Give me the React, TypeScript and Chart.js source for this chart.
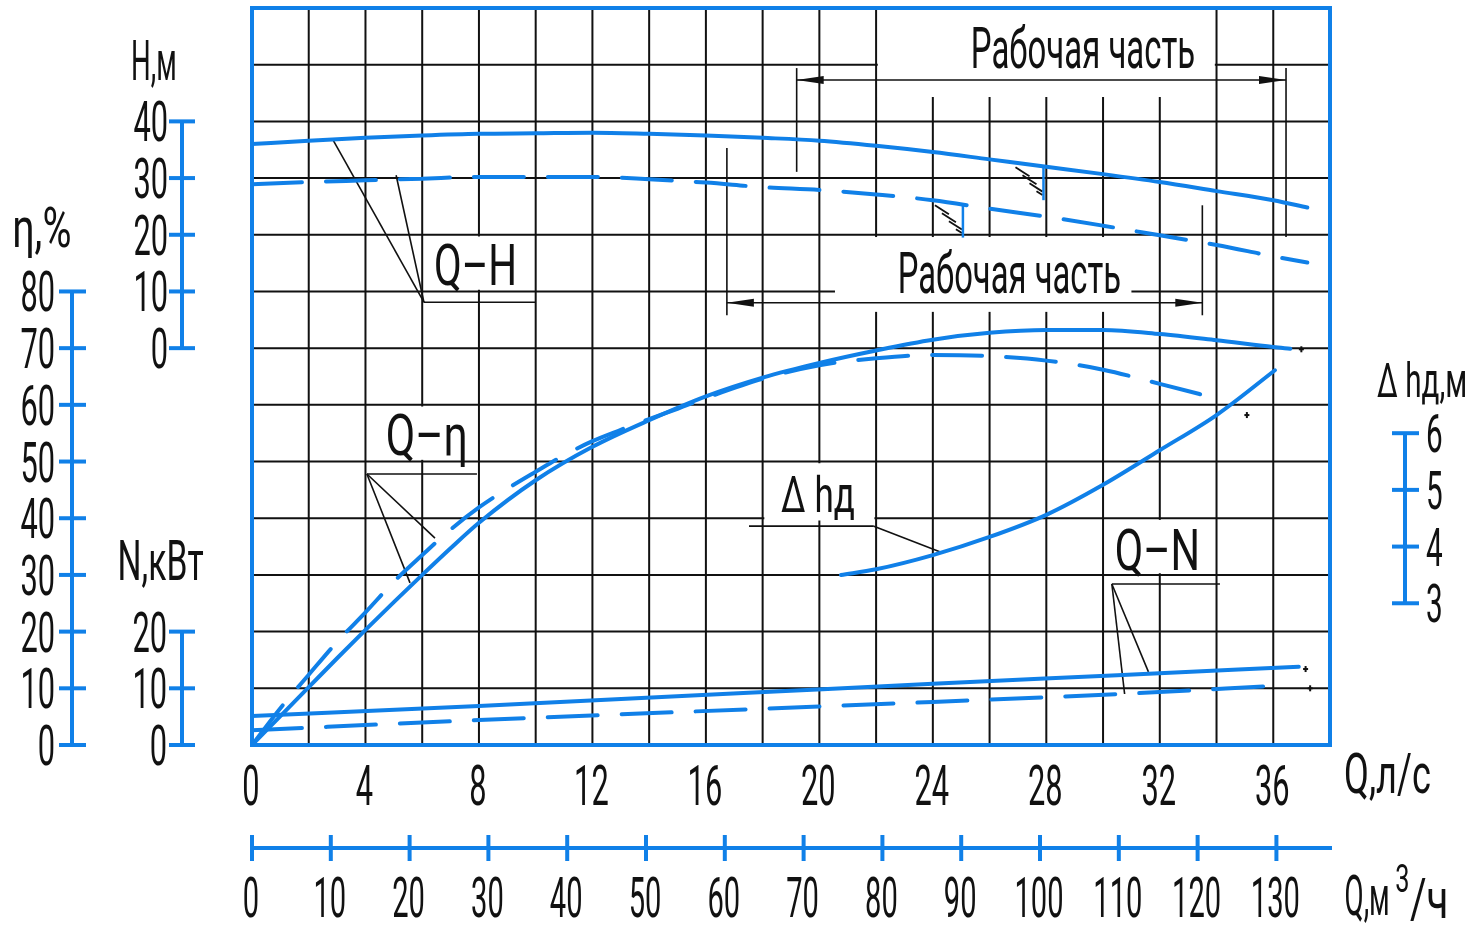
import React, { useEffect, useRef } from 'react';
import { Chart, registerables } from 'chart.js';

Chart.register(...registerables);

const BLUE = '#1080e8';
const INK = '#111111';
const FONT = 'Roboto, "DejaVu Sans", sans-serif';

// ---- data (Q in l/s) ----
const qH = [0, 2, 4, 6, 8, 10, 12, 14, 16, 18, 20, 22, 24, 26, 28, 30, 32, 34, 36, 37.2];
const hSolid = [36.0, 36.6, 37.1, 37.5, 37.8, 37.9, 38.0, 37.8, 37.5, 37.1, 36.6, 35.7, 34.6, 33.3, 32.0, 30.7, 29.3, 27.7, 26.1, 24.8];
const hDashed = [28.9, 29.3, 29.6, 29.9, 30.2, 30.2, 30.2, 29.8, 29.2, 28.4, 27.9, 27.1, 26.1, 24.6, 23.2, 21.6, 19.9, 18.2, 16.2, 15.1];

const qEtaSolid = [0, 1, 2, 3, 4, 5, 6, 7, 8, 10, 12, 14, 16, 18, 20, 22, 24, 26, 28, 30, 32, 34, 36, 36.6];
const etaSolid = [0, 5.1, 10.2, 15.3, 20.3, 25.2, 30.0, 34.7, 39.2, 46.7, 52.6, 57.3, 61.5, 64.8, 67.4, 69.6, 71.5, 72.7, 73.2, 73.2, 72.5, 71.4, 70.2, 69.9];
const qEtaDashed = [0, 1, 2, 3, 4, 5, 6, 7, 8, 9, 10, 11, 12, 13, 14, 15, 16, 18, 20, 22, 24, 26, 28, 30, 32, 34.1];
const etaDashed = [0, 6.5, 12.4, 18.2, 23.4, 28.8, 33.5, 38.0, 41.9, 45.2, 48.2, 51.1, 53.6, 55.6, 57.5, 59.3, 61.2, 64.6, 67.0, 68.2, 68.8, 68.6, 67.8, 66.2, 63.7, 61.0];

const qDh = [20.76, 22, 24, 26, 28, 30, 32, 34, 36.06];
const dh = [3.5, 3.6, 3.85, 4.17, 4.56, 5.09, 5.7, 6.32, 7.11];

const qNSolid = [0, 8, 17.5, 24, 30.5, 36.9];
const nSolid = [5.1, 6.9, 9.2, 10.8, 12.3, 13.8];
const qNDashed = [0, 8, 17.5, 24, 30.6, 36.3];
const nDashed = [2.6, 4.4, 6.3, 7.6, 9.0, 10.5];

// ---- ticks ----
const qTicksLs = [0, 4, 8, 12, 16, 20, 24, 28, 32, 36];
const qTicksM3 = [0, 10, 20, 30, 40, 50, 60, 70, 80, 90, 100, 110, 120, 130];
const hTicks = [0, 10, 20, 30, 40];
const etaTicks = [0, 10, 20, 30, 40, 50, 60, 70, 80];
const nTicks = [0, 10, 20];
const dhTicks = [3, 4, 5, 6];

// working ranges (Q, l/s)
const workSolid = [19.2, 36.45];
const workDashed = [16.74, 33.5];

const pts = (qs: number[], vs: number[]) => qs.map((q, i) => ({ x: q, y: vs[i] }));

function drawText(ctx: CanvasRenderingContext2D, s: string, x: number, y: number, size: number, align: CanvasTextAlign, sx = 0.55) {
  ctx.save();
  ctx.font = `${size}px ${FONT}`;
  ctx.textAlign = align;
  ctx.textBaseline = 'alphabetic';
  ctx.fillStyle = INK;
  ctx.translate(x, y);
  ctx.scale(sx, 1);
  ctx.fillText(s, 0, 0);
  ctx.restore();
}

function fitText(ctx: CanvasRenderingContext2D, s: string, left: number, baseline: number, width: number, size: number) {
  ctx.save();
  ctx.font = `${size}px ${FONT}`;
  ctx.textAlign = 'left';
  ctx.textBaseline = 'alphabetic';
  ctx.fillStyle = INK;
  const m = ctx.measureText(s);
  const w = m.actualBoundingBoxLeft + m.actualBoundingBoxRight;
  const sx = width / w;
  ctx.translate(left, baseline);
  ctx.scale(sx, 1);
  ctx.fillText(s, m.actualBoundingBoxLeft, 0);
  ctx.restore();
}

function seg(ctx: CanvasRenderingContext2D, x1: number, y1: number, x2: number, y2: number) {
  ctx.beginPath();
  ctx.moveTo(x1, y1);
  ctx.lineTo(x2, y2);
  ctx.stroke();
}

function arrow(ctx: CanvasRenderingContext2D, tipX: number, y: number, dir: number) {
  ctx.beginPath();
  ctx.moveTo(tipX, y);
  ctx.lineTo(tipX - dir * 27, y - 4);
  ctx.lineTo(tipX - dir * 27, y + 4);
  ctx.closePath();
  ctx.fill();
}

const decor = {
  id: 'decor',
  beforeDatasetsDraw(chart: any) {
    const { ctx, chartArea: a, scales } = chart;
    const X = (q: number) => scales.x.getPixelForValue(q);
    const G = (u: number) => scales.yG.getPixelForValue(u);
    ctx.save();
    // grid
    ctx.strokeStyle = INK;
    ctx.lineWidth = 2;
    ctx.beginPath();
    for (let q = 2; q < 38; q += 2) {
      ctx.moveTo(X(q), a.top);
      ctx.lineTo(X(q), a.bottom);
    }
    for (let u = 1; u < 13; u++) {
      ctx.moveTo(a.left, G(u));
      ctx.lineTo(a.right, G(u));
    }
    ctx.stroke();

    // white label boxes
    ctx.fillStyle = '#ffffff';
    const box = (q0: number, q1: number, uTop: number, uBot: number) => {
      ctx.fillRect(X(q0), G(uTop), X(q1) - X(q0), G(uBot) - G(uTop));
    };
    box(22.06, 33.94, 12.97, 11.43);
    box(20.55, 31.0, 8.96, 7.64);
    box(6.06, 9.94, 8.97, 8.03);
    box(4.06, 7.94, 5.97, 5.03);
    box(18.06, 21.94, 4.97, 3.96);
    box(30.06, 33.94, 3.97, 3.03);

    // dimension lines (working range)
    ctx.strokeStyle = INK;
    ctx.fillStyle = INK;
    ctx.lineWidth = 1.6;
    seg(ctx, X(workSolid[0]), G(11.94), X(workSolid[0]), G(10.11));
    seg(ctx, X(workSolid[1]), G(11.94), X(workSolid[1]), G(8.96));
    seg(ctx, X(workSolid[0]), G(11.73), X(workSolid[1]), G(11.73));
    arrow(ctx, X(workSolid[0]), G(11.73), -1);
    arrow(ctx, X(workSolid[1]), G(11.73), 1);

    seg(ctx, X(workDashed[0]), G(10.53), X(workDashed[0]), G(7.58));
    seg(ctx, X(workDashed[1]), G(9.52), X(workDashed[1]), G(7.58));
    seg(ctx, X(workDashed[0]), G(7.8), X(workDashed[1]), G(7.8));
    arrow(ctx, X(workDashed[0]), G(7.8), -1);
    arrow(ctx, X(workDashed[1]), G(7.8), 1);

    // leaders + underlines
    ctx.lineWidth = 1.6;
    seg(ctx, X(6.06), G(7.81), X(10.01), G(7.81));
    seg(ctx, X(6.06), G(7.81), X(2.86), G(10.67));
    seg(ctx, X(6.06), G(7.81), X(5.08), G(10.05));

    seg(ctx, X(4.05), G(4.78), X(7.93), G(4.78));
    seg(ctx, X(4.05), G(4.78), X(6.45), G(3.65));
    seg(ctx, X(4.05), G(4.78), X(5.57), G(2.86));

    seg(ctx, X(17.52), G(3.86), X(21.92), G(3.86));
    seg(ctx, X(21.92), G(3.86), X(24.29), G(3.4));

    seg(ctx, X(30.31), G(2.84), X(34.12), G(2.84));
    seg(ctx, X(30.31), G(2.84), X(30.76), G(0.9));
    seg(ctx, X(30.31), G(2.84), X(31.6), G(1.29));

    // hatch marks under the Q-H curves
    const hatch = (vx: number, top: number) => {
      ctx.lineWidth = 1.8;
      for (let i = 0; i < 4; i++) {
        const x0 = vx - 28 + 7 * i;
        const y0 = top + 1 + 8 * i;
        const x1 = Math.min(vx - 1, x0 + 14);
        const y1 = y0 + (x1 - x0) * 0.65;
        seg(ctx, x0, y0, x1, y1);
      }
    };
    hatch(X(27.9), scales.yH.getPixelForValue(32.1));
    hatch(X(25.06), scales.yH.getPixelForValue(25.4));
    ctx.restore();
  },
  afterDatasetsDraw(chart: any) {
    const { ctx, chartArea: a, scales } = chart;
    const X = (q: number) => scales.x.getPixelForValue(q);
    const G = (u: number) => scales.yG.getPixelForValue(u);
    const YH = (h: number) => scales.yH.getPixelForValue(h);
    ctx.save();
    // blue markers at hatch
    ctx.strokeStyle = BLUE;
    ctx.lineWidth = 2.5;
    seg(ctx, X(27.9), YH(32.1), X(27.9), YH(26.1));
    seg(ctx, X(25.06), YH(25.4), X(25.06), YH(19.5));

    // border
    ctx.lineWidth = 4;
    ctx.strokeRect(a.left, a.top, a.right - a.left, a.bottom - a.top);

    // small end marks
    ctx.fillStyle = INK;
    const star = (q: number, u: number) => {
      const x = X(q), y = G(u);
      ctx.fillRect(x - 2.5, y - 1, 5, 2);
      ctx.fillRect(x - 1, y - 3, 2, 6);
    };
    star(36.99, 6.98);
    star(35.07, 5.82);
    star(37.14, 1.34);
    star(37.3, 1.0);

    // in-plot texts
    fitText(ctx, 'Рабочая часть', X(25.42), G(11.94), 221, 57);
    fitText(ctx, 'Рабочая часть', X(22.84), G(7.97), 220, 57);
    fitText(ctx, 'Q–H', X(6.49), G(8.11), 78, 58);
    fitText(ctx, 'Q–η', X(4.79), G(5.12), 77, 58);
    fitText(ctx, 'Δ hд', X(18.65), G(4.11), 73, 50);
    fitText(ctx, 'Q–N', X(30.49), G(3.09), 80, 58);
    ctx.restore();
  },
  afterDraw(chart: any) {
    const { ctx, chartArea: a, scales } = chart;
    ctx.save();
    ctx.strokeStyle = BLUE;
    ctx.lineWidth = 4;
    ctx.lineCap = 'butt';

    // H axis
    const yH = scales.yH;
    seg(ctx, 182, yH.getPixelForValue(0), 182, yH.getPixelForValue(40));
    hTicks.forEach((v) => {
      const y = yH.getPixelForValue(v);
      seg(ctx, 169, y, 195, y);
      drawText(ctx, String(v), 168, y + 20, 56, 'right');
    });
    // eta axis
    const yE = scales.yEta;
    seg(ctx, 72, yE.getPixelForValue(0), 72, yE.getPixelForValue(80));
    etaTicks.forEach((v) => {
      const y = yE.getPixelForValue(v);
      seg(ctx, 59, y, 86, y);
      drawText(ctx, String(v), 55, y + 20, 56, 'right');
    });
    // N axis
    const yN = scales.yN;
    seg(ctx, 182, yN.getPixelForValue(0), 182, yN.getPixelForValue(20));
    nTicks.forEach((v) => {
      const y = yN.getPixelForValue(v);
      seg(ctx, 169, y, 195, y);
      drawText(ctx, String(v), 167, y + 20, 56, 'right');
    });
    // dh axis
    const yD = scales.yDh;
    seg(ctx, 1405, yD.getPixelForValue(3), 1405, yD.getPixelForValue(6));
    dhTicks.forEach((v) => {
      const y = yD.getPixelForValue(v);
      seg(ctx, 1392, y, 1419, y);
      drawText(ctx, String(v), 1426, y + 19, 54, 'left');
    });
    // Q l/s labels
    qTicksLs.forEach((v) => {
      drawText(ctx, String(v), scales.x.getPixelForValue(v) - 1, 805, 56, 'center');
    });
    // m3/h axis
    const xm = scales.xM3;
    seg(ctx, a.left, 848, a.right + 2, 848);
    qTicksM3.forEach((v) => {
      const x = xm.getPixelForValue(v);
      seg(ctx, x, 835, x, 861);
      drawText(ctx, String(v), x - 1, 917, 56, 'center', 0.52);
    });

    // axis titles
    fitText(ctx, 'H,м', 133, 80, 42, 56);
    fitText(ctx, 'η,%', 15, 247, 55, 56);
    fitText(ctx, 'N,кВт', 120, 580, 83, 56);
    fitText(ctx, 'Δ hд,м', 1377, 397, 88, 48);
    fitText(ctx, 'Q,л/с', 1346, 793, 84, 56);
    fitText(ctx, 'Q,м', 1346, 915, 42, 56);
    fitText(ctx, '3', 1396, 892, 12, 38);
    fitText(ctx, '/ч', 1410, 918, 36, 56);
    ctx.restore();
  },
};

export default function App() {
  const ref = useRef<HTMLCanvasElement>(null);
  useEffect(() => {
    document.body.style.margin = '0';
    const line = (data: any[], yAxisID: string, dashed: boolean) => ({
      data,
      xAxisID: 'x',
      yAxisID,
      borderColor: BLUE,
      borderWidth: 4,
      borderDash: dashed ? [50, 24] : [],
      borderCapStyle: 'round',
      pointRadius: 0,
      cubicInterpolationMode: 'monotone',
      fill: false,
    });
    const chart = new Chart(ref.current as HTMLCanvasElement, {
      type: 'line',
      data: {
        datasets: [
          line(pts(qH, hSolid), 'yH', false),
          line(pts(qH, hDashed), 'yH', true),
          line(pts(qEtaSolid, etaSolid), 'yEta', false),
          line(pts(qEtaDashed, etaDashed), 'yEta', true),
          line(pts(qDh, dh), 'yDh', false),
          line(pts(qNSolid, nSolid), 'yN', false),
          line(pts(qNDashed, nDashed), 'yN', true),
        ] as any,
      },
      options: {
        responsive: false,
        animation: false,
        events: [],
        layout: { padding: { left: 252, top: 8, right: 141, bottom: 183 } },
        plugins: { legend: { display: false }, tooltip: { enabled: false } },
        scales: {
          x: { type: 'linear', min: 0, max: 38, display: false },
          xM3: { type: 'linear', axis: 'x', position: 'bottom', min: 0, max: 136.8, display: false },
          yG: { type: 'linear', min: 0, max: 13, display: false },
          yH: { type: 'linear', min: -70, max: 60, display: false },
          yEta: { type: 'linear', min: 0, max: 130, display: false },
          yN: { type: 'linear', min: 0, max: 130, display: false },
          yDh: { type: 'linear', min: 0.5, max: 13.5, display: false },
        } as any,
      },
      plugins: [decor],
    });
    return () => chart.destroy();
  }, []);
  return (
    <div style={{ position: 'absolute', left: 0, top: 0, width: 1471, height: 928, background: '#fff' }}>
      <canvas ref={ref} width={1471} height={928} style={{ display: 'block', width: 1471, height: 928 }} />
    </div>
  );
}
